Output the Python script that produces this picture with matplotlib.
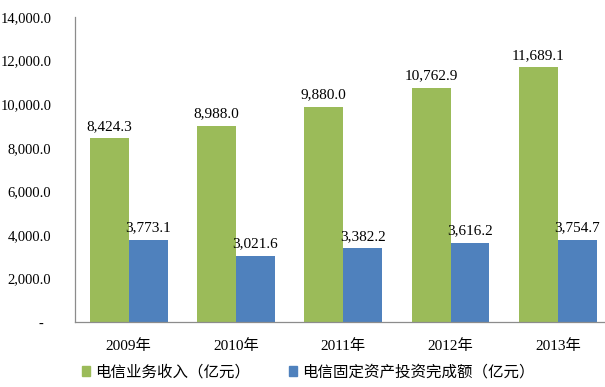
import matplotlib
matplotlib.use("Agg")
import matplotlib.pyplot as plt
import numpy as np
from matplotlib.patches import Patch

years = ["2009年", "2010年", "2011年", "2012年", "2013年"]
revenue = [8424.3, 8988.0, 9880.0, 10762.9, 11689.1]
investment = [3773.1, 3021.6, 3382.2, 3616.2, 3754.7]
series_names = ["电信业务收入（亿元）", "电信固定资产投资完成额（亿元）"]
yticks = [0, 2000, 4000, 6000, 8000, 10000, 12000, 14000]

green = "#9BBB59"
blue = "#4F81BD"
serif = ["Liberation Serif", "Noto Sans CJK SC"]

fig = plt.figure(figsize=(6.05, 3.87), dpi=100)
ax = fig.add_axes([75/605, 1-322/387, 530/605, (322-17)/387])

x = np.arange(len(years))
w = 0.363
b1 = ax.bar(x - w/2, revenue, w, color=green)
b2 = ax.bar(x + w/2, investment, w, color=blue)

for bars, vals in ((b1, revenue), (b2, investment)):
    for r, v in zip(bars, vals):
        ax.annotate(f"{v:,.1f}", (r.get_x() + r.get_width()/2, v),
                    xytext=(0, 4), textcoords="offset points",
                    ha="center", va="bottom", fontsize=11,
                    family="Liberation Serif")

ax.set_xlim(-0.5, -0.5 + 530/107.3)
ax.set_ylim(0, 14000)
ax.set_yticks(yticks)
ax.set_yticklabels(["-  " if t == 0 else f"{t:,.1f}" for t in yticks],
                   family="Liberation Serif", fontsize=10.5)
ax.set_xticks(x)
ax.set_xticklabels(years, fontsize=11, family=serif)
ax.tick_params(axis="y", length=0, pad=17)
ax.tick_params(axis="x", length=0, pad=12)

for s in ("top", "right"):
    ax.spines[s].set_visible(False)
for s in ("left", "bottom"):
    ax.spines[s].set_color("#8C8C8C")
    ax.spines[s].set_linewidth(0.9)

handles = [Patch(color=green), Patch(color=blue)]
fig.legend(handles, series_names, loc="center", bbox_to_anchor=(308/605, 1-372/387),
           ncol=2, frameon=False, prop={"family": "Noto Sans CJK SC", "size": 11.15},
           handlelength=0.52, handleheight=0.52, handletextpad=0.32, columnspacing=2.5,
           borderpad=0, borderaxespad=0)

fig.savefig("out.png", dpi=100)
